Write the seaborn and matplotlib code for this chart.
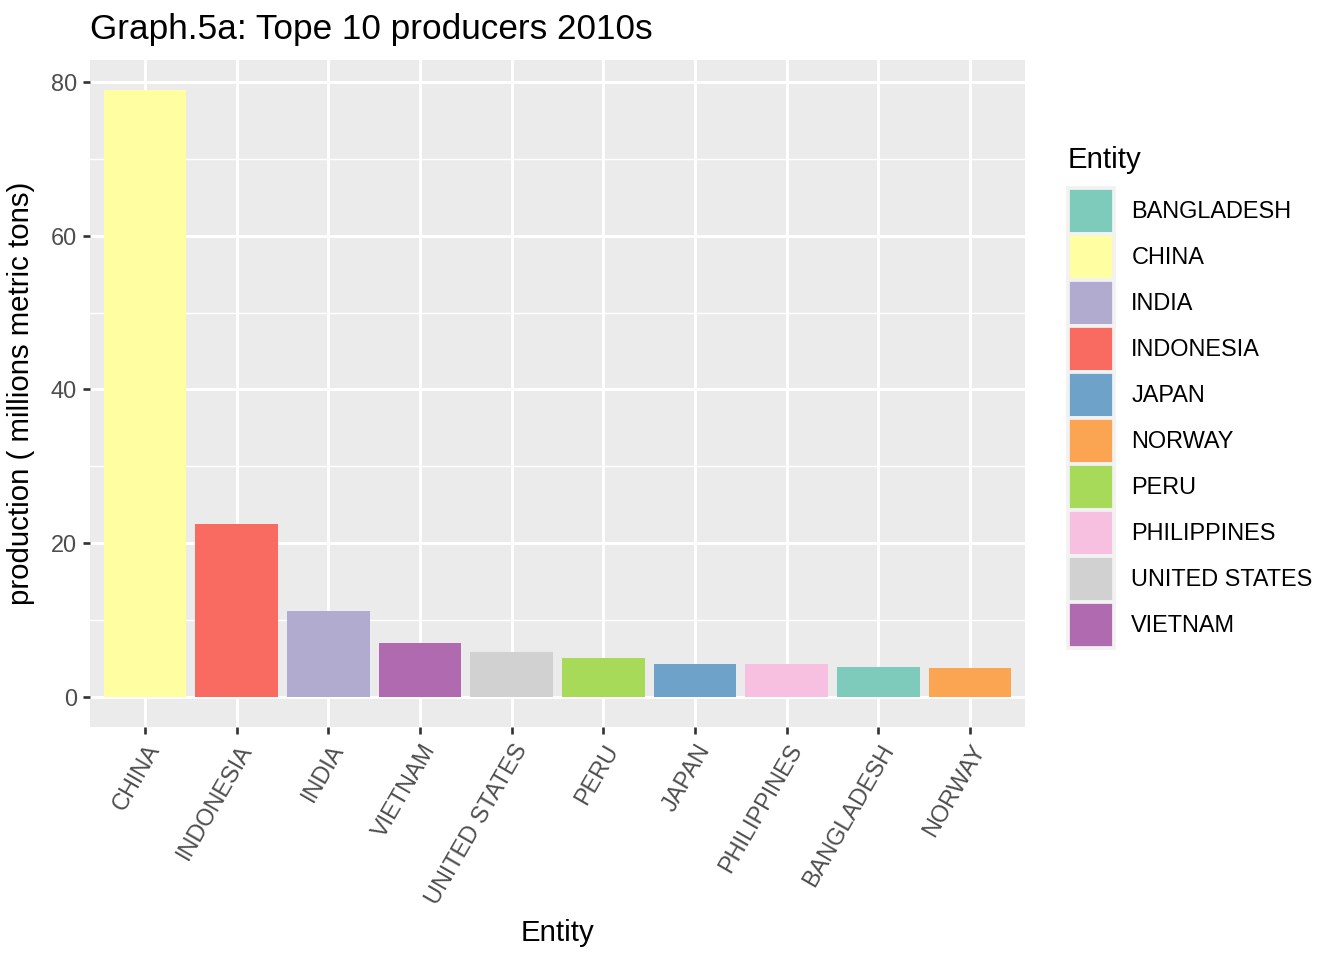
import matplotlib
matplotlib.use("Agg")
import matplotlib.pyplot as plt
from matplotlib.patches import Patch
import pandas as pd
import seaborn as sns

# values (millions metric tons)
entities = ["CHINA", "INDONESIA", "INDIA", "VIETNAM", "UNITED STATES",
            "PERU", "JAPAN", "PHILIPPINES", "BANGLADESH", "NORWAY"]
production = [78.95, 22.47, 11.2, 6.94, 5.85, 5.06, 4.28, 4.27, 3.89, 3.75]

legend_order = sorted(entities)
colors = {
    "BANGLADESH": "#7FCBBB",
    "CHINA": "#FFFFA1",
    "INDIA": "#B1ABD0",
    "INDONESIA": "#F96B60",
    "JAPAN": "#6EA2C9",
    "NORWAY": "#FBA552",
    "PERU": "#A6DA58",
    "PHILIPPINES": "#F8C0E0",
    "UNITED STATES": "#D1D1D1",
    "VIETNAM": "#B06BB0",
}

df = pd.DataFrame({"Entity": entities, "production": production})

sns.set_theme(style="darkgrid")
plt.rcParams["font.family"] = ["Liberation Sans", "DejaVu Sans"]
plt.rcParams["text.color"] = "black"

fig = plt.figure(figsize=(7, 5), dpi=192)
ax = fig.add_axes([90 / 1344, 1 - 727 / 960, (1025 - 90) / 1344, (727 - 60) / 960])
ax.set_facecolor("#EBEBEB")

sns.barplot(data=df, x="Entity", y="production", hue="Entity",
            order=entities, hue_order=legend_order, palette=colors,
            width=0.9, saturation=1, legend=False, ax=ax, zorder=3,
            linewidth=0, edgecolor="none")

ymax = max(production)
ax.set_ylim(-0.05 * ymax, 1.05 * ymax)
ax.set_xlim(-0.6, len(entities) - 0.4)
ax.set_yticks([0, 20, 40, 60, 80])
ax.set_yticks([10, 30, 50, 70], minor=True)
ax.grid(True, which="major", color="white", linewidth=1.1)
ax.grid(True, which="minor", axis="y", color="white", linewidth=0.55)
ax.set_axisbelow(True)
for s in ax.spines.values():
    s.set_visible(False)

ax.tick_params(axis="both", which="major", length=2.75, width=1.0,
               color="#333333", labelcolor="#4D4D4D", labelsize=8.8, pad=2.2,
               bottom=True, left=True)
ax.tick_params(axis="y", which="minor", length=0)
plt.setp(ax.get_xticklabels(), rotation=60, ha="right", va="top",
         rotation_mode="anchor")

ax.set_xlabel("Entity", fontsize=11, color="black", labelpad=4)
ax.set_ylabel("production ( millions metric tons)", fontsize=11,
              color="black", labelpad=6)

fig.text(90 / 1344, 1 - 29 / 960, "Graph.5a: Tope 10 producers 2010s",
         fontsize=13.2, ha="left", va="center", color="black")

handles = [Patch(facecolor=colors[e], edgecolor="#F2F2F2", linewidth=1.4)
           for e in legend_order]
leg = fig.legend(handles, legend_order, title="Entity",
                 loc="center left", bbox_to_anchor=(1068 / 1344, 1 - 397 / 960),
                 frameon=False, fontsize=8.8, title_fontsize=11,
                 handlelength=1.95, handleheight=2.64, labelspacing=0,
                 handletextpad=0.75, borderpad=0, borderaxespad=0)
leg._legend_box.align = "left"
leg._legend_box.sep = 5
for t in leg.get_texts():
    t.set_color("black")
leg.get_title().set_color("black")

fig.savefig("out.png", dpi=192, facecolor="white")
